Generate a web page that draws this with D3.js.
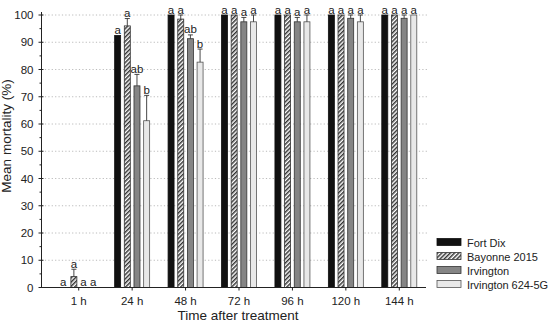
<!DOCTYPE html>
<html>
<head>
<meta charset="utf-8">
<script src="https://cdn.jsdelivr.net/npm/d3@7"></script>
<style>
  body { margin: 0; background: #fff; }
  text { font-family: "Liberation Sans", Arial, sans-serif; fill: #222; }
</style>
</head>
<body>
<svg id="chart" width="550" height="326"></svg>
<script>
// data
const times = ['1 h', '24 h', '48 h', '72 h', '96 h', '120 h', '144 h']
const strains = ['Fort Dix', 'Bayonne 2015', 'Irvington', 'Irvington 624-5G']

const fortDix    = [0, 92.5, 100, 100, 100, 100, 100]
const bayonne    = [4, 96, 98.5, 100, 100, 100, 100]
const irvington  = [0, 74, 91.3, 97.5, 97.5, 98.8, 98.8]
const irv624     = [0, 61.2, 82.7, 97.5, 97.5, 97.5, 100]

// upper end of error bar (null = none drawn)
const fortDixErr   = [null, null, null, null, null, null, null]
const bayonneErr   = [6.7, 98.7, 100, null, null, null, null]
const irvingtonErr = [null, 78.2, 92.7, 99.1, 99.1, 100, 100]
const irv624Err    = [null, 70.5, 87.5, 100, 100, 100, null]

const fortDixLbl   = ['a', 'a', 'a', 'a', 'a', 'a', 'a']
const bayonneLbl   = ['a', 'a', 'a', 'a', 'a', 'a', 'a']
const irvingtonLbl = ['a', 'ab', 'ab', 'a', 'a', 'a', 'a']
const irv624Lbl    = ['a', 'b', 'b', 'a', 'a', 'a', 'a']

const yTicks = d3.range(0, 101, 10)

const series = [
  { name: strains[0], vals: fortDix, err: fortDixErr, lbl: fortDixLbl, fill: '#111', stroke: '#111' },
  { name: strains[1], vals: bayonne, err: bayonneErr, lbl: bayonneLbl, fill: 'url(#hatch)', stroke: '#333' },
  { name: strains[2], vals: irvington, err: irvingtonErr, lbl: irvingtonLbl, fill: '#858585', stroke: '#333' },
  { name: strains[3], vals: irv624, err: irv624Err, lbl: irv624Lbl, fill: '#e8e8e8', stroke: '#555' }
]

const svg = d3.select('#chart')

const defs = svg.append('defs')
const pat = defs.append('pattern')
  .attr('id', 'hatch')
  .attr('patternUnits', 'userSpaceOnUse')
  .attr('width', 3).attr('height', 3)
  .attr('patternTransform', 'rotate(45)')
pat.append('rect').attr('width', 3).attr('height', 3).attr('fill', '#fff')
pat.append('rect').attr('width', 1.5).attr('height', 3).attr('fill', '#333')

const axisLeft = 41.5, axisRight = 426, plotTop = 15, plotBottom = 287.5

const x = d3.scaleBand().domain(times).range([52, 426]).padding(0)
const xs = d3.scaleBand().domain(d3.range(4)).range([0, 35]).paddingInner(0.38)
const y = d3.scaleLinear().domain([0, 100]).range([plotBottom, plotTop])

// grid
svg.append('g').selectAll('line')
  .data(yTicks.filter(d => d > 0))
  .join('line')
  .attr('x1', axisLeft).attr('x2', axisRight + 2)
  .attr('y1', d => y(d)).attr('y2', d => y(d))
  .attr('stroke', '#aaa').attr('stroke-width', 0.8)
  .attr('stroke-dasharray', '1.2,2.2')

// bars
series.forEach((s, si) => {
  const g = svg.append('g')
  times.forEach((t, i) => {
    const bx = x(t) + x.bandwidth() / 2 - 17.5 + xs(si)
    const bw = xs.bandwidth()
    const v = s.vals[i]
    if (v > 0) {
      g.append('rect')
        .attr('x', bx).attr('y', y(v))
        .attr('width', bw).attr('height', y(0) - y(v))
        .attr('fill', s.fill).attr('stroke', s.stroke).attr('stroke-width', 0.8)
    }
    let labTop = y(v)
    if (s.err[i] != null) {
      const cx = bx + bw / 2
      g.append('line').attr('x1', cx).attr('x2', cx)
        .attr('y1', y(v)).attr('y2', y(s.err[i]))
        .attr('stroke', '#333').attr('stroke-width', 0.9)
      g.append('line').attr('x1', cx - 2.5).attr('x2', cx + 2.5)
        .attr('y1', y(s.err[i])).attr('y2', y(s.err[i]))
        .attr('stroke', '#333').attr('stroke-width', 0.9)
      labTop = y(s.err[i])
    }
    g.append('text')
      .attr('x', bx + bw / 2 + (i == 0 && si == 0 ? -1 : 0))
      .attr('y', labTop - 1.5)
      .attr('text-anchor', 'middle')
      .attr('font-size', 11.5)
      .attr('fill', '#222')
      .text(s.lbl[i])
  })
})

// y axis
const yAxis = svg.append('g')
yAxis.append('line').attr('x1', axisLeft).attr('x2', axisLeft)
  .attr('y1', plotTop - 3).attr('y2', plotBottom).attr('stroke', '#222')
yAxis.selectAll('.maj').data(yTicks).join('line')
  .attr('x1', axisLeft - 3).attr('x2', axisLeft + 2)
  .attr('y1', d => y(d)).attr('y2', d => y(d)).attr('stroke', '#222')
yAxis.selectAll('.min').data(d3.range(5, 100, 10)).join('line')
  .attr('x1', axisLeft - 2).attr('x2', axisLeft)
  .attr('y1', d => y(d)).attr('y2', d => y(d)).attr('stroke', '#222')
yAxis.selectAll('text').data(yTicks).join('text')
  .attr('x', axisLeft - 8).attr('y', d => y(d) + 4)
  .attr('text-anchor', 'end').attr('font-size', 11.5)
  .text(d => d)

// x axis
const xAxis = svg.append('g')
xAxis.append('line').attr('x1', axisLeft).attr('x2', axisRight)
  .attr('y1', plotBottom).attr('y2', plotBottom).attr('stroke', '#222')
xAxis.selectAll('.tk').data(times).join('line')
  .attr('x1', d => x(d) + x.bandwidth() / 2).attr('x2', d => x(d) + x.bandwidth() / 2)
  .attr('y1', plotBottom).attr('y2', plotBottom + 3).attr('stroke', '#222')
xAxis.selectAll('text').data(times).join('text')
  .attr('x', d => x(d) + x.bandwidth() / 2).attr('y', plotBottom + 17)
  .attr('text-anchor', 'middle').attr('font-size', 11.5)
  .text(d => d)

// axis titles
svg.append('text')
  .attr('x', 238).attr('y', 320)
  .attr('text-anchor', 'middle').attr('font-size', 13.5)
  .text('Time after treatment')
svg.append('text')
  .attr('transform', 'translate(11,136) rotate(-90)')
  .attr('text-anchor', 'middle').attr('font-size', 13.5)
  .text('Mean mortality (%)')

// legend
const leg = svg.append('g').attr('transform', 'translate(437,238.5)')
series.forEach((s, i) => {
  const row = leg.append('g').attr('transform', `translate(0,${i * 14})`)
  row.append('rect').attr('x', 0).attr('y', 0).attr('width', 24).attr('height', 7)
    .attr('fill', s.fill).attr('stroke', s.stroke).attr('stroke-width', 0.8)
  row.append('text').attr('x', 30).attr('y', 8).attr('font-size', 11)
    .attr('textLength', s.name == 'Irvington 624-5G' ? 81 : null)
    .text(s.name)
})
</script>
</body>
</html>
